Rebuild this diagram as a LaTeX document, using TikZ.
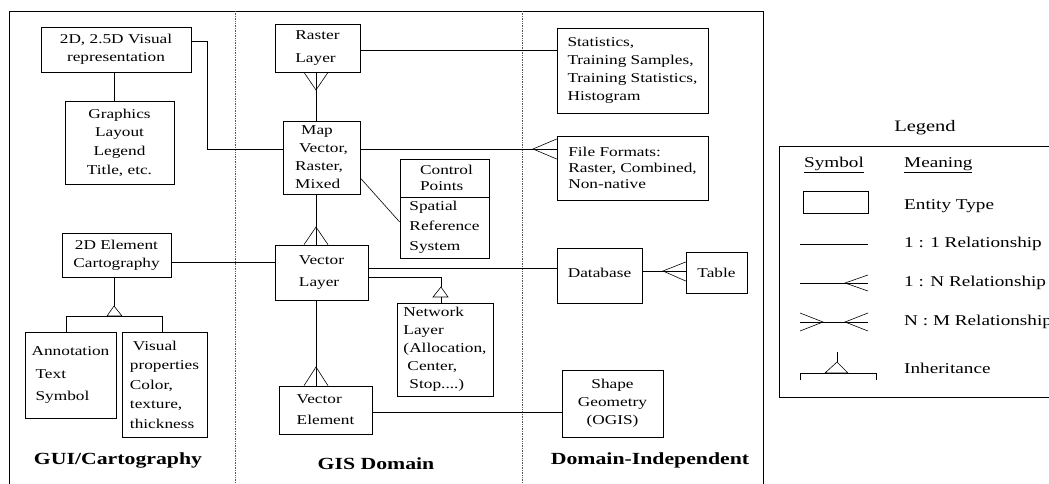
\documentclass[tikz,border=0pt]{standalone}
\usepackage{fontspec}
\setmainfont{Liberation Serif}[FakeStretch=1.28]
\newcommand\erfont{\fontsize{13.5}{18}\selectfont}
\tikzset{
  entite/.style={draw, line width=0.7pt, inner sep=0pt, align=left, font=\erfont},
  lien/.style={line width=0.6pt},
  colonne/.style={densely dotted, line width=0.7pt, gray!70!black},
  titre/.style={font=\fontsize{17}{20}\selectfont\bfseries},
  lgdtexte/.style={font=\fontsize{15}{18}\selectfont, anchor=west, inner sep=0pt},
}
\begin{document}
\begin{tikzpicture}[x=1pt,y=-1pt]
\useasboundingbox (0,0) rectangle (1049,484);

% Cadre et colonnes
\draw[line width=0.8pt] (9,484) -- (9,11) -- (763,11) -- (763,484);
\draw[colonne] (235,11) -- (235,484);
\draw[colonne] (522,11) -- (522,484);

% Entités GUI/Cartography
\node[entite, align=center, minimum width=150pt, minimum height=45pt] (vis) at (116,49.5) {2D, 2.5D Visual\\representation};
\node[entite, align=center, font=\fontsize{13.5}{18.7}\selectfont, minimum width=109pt, minimum height=83pt] (gfx) at (119.5,142.5) {Graphics\\Layout\\Legend\\Title, etc.};
\node[entite, align=center, minimum width=109pt, minimum height=44pt] (elem) at (116.5,255) {2D Element\\Cartography};
\node[entite, font=\fontsize{13.5}{22.5}\selectfont, minimum width=91pt, minimum height=86pt] (annot) at (70.5,375) {Annotation\\\hspace{4pt}Text\\\hspace{4pt}Symbol};
\node[entite, font=\fontsize{13.5}{19.5}\selectfont, minimum width=85pt, minimum height=105pt] (visprop) at (164.5,384.5) {\hspace{3pt}Visual\\properties\\Color,\\texture,\\thickness};

% Entités GIS Domain
\node[entite, minimum width=85pt, minimum height=48pt] (raster) at (317.5,48) {Raster\\[5pt]Layer};
\node[entite, minimum width=77pt, minimum height=73pt] (map) at (321.5,157.5) {\hspace{6pt}Map\\\hspace{4pt}Vector,\\Raster,\\Mixed};
\node[entite, font=\fontsize{13.5}{16}\selectfont, minimum width=89pt, minimum height=38pt] (cpts) at (444.5,178) {\hspace{4pt}Control\\\hspace{4pt}Points};
\node[entite, font=\fontsize{13.5}{20}\selectfont, minimum width=89pt, minimum height=61pt] (srs) at (444.5,227.5) {Spatial\\Reference\\System};
\node[entite, minimum width=93pt, minimum height=55pt] (vlayer) at (321.5,272.5) {Vector\\[4pt]Layer};
\node[entite, minimum width=96pt, minimum height=93pt] (netw) at (445,349.5) {Network\\Layer\\(Allocation,\\\hspace{4pt}Center,\\\hspace{6pt}Stop....)};
\node[entite, minimum width=93pt, minimum height=48pt] (velem) at (325.5,410) {Vector\\[3pt]Element};

% Entités Domain-Independent
\node[entite, minimum width=151pt, minimum height=85pt] (stats) at (632.5,70.5) {Statistics,\\Training Samples,\\Training Statistics,\\Histogram};
\node[entite, font=\fontsize{13.5}{16}\selectfont, minimum width=151pt, minimum height=64pt] (ffmt) at (632.5,168) {File Formats:\\Raster, Combined,\\Non-native};
\node[entite, minimum width=85pt, minimum height=55pt] (db) at (599.5,275.5) {\raisebox{5pt}{Database}};
\node[entite, minimum width=61pt, minimum height=41pt] (table) at (716.5,272.5) {Table};
\node[entite, align=center, minimum width=101pt, minimum height=67pt] (shape) at (612.5,403.5) {Shape\\Geometry\\(OGIS)};

% Relations 1:1
\draw[lien] (vis.south -| 114,0) -- (gfx.north -| 114,0);
\draw[lien] (vis.east |- 0,41) -- (207,41) -- (207,149) -- (map.west |- 0,149);
\draw[lien] (raster.east |- 0,50) -- (stats.west |- 0,50);
\draw[lien] (map.east |- 0,178) -- (srs.west |- 0,222);
\draw[lien] (elem.east |- 0,262) -- (vlayer.west |- 0,262);
\draw[lien] (vlayer.east |- 0,268) -- (db.west |- 0,268);
\draw[lien] (velem.east |- 0,412) -- (shape.west |- 0,412);

% Relations 1:N
\draw[lien] (map.north -| 316,0) -- (raster.south -| 316,0);
\draw[lien] (raster.south -| 304,0) -- (316,90) -- (raster.south -| 328,0);
\draw[lien] (map.east |- 0,149) -- (ffmt.west |- 0,149);
\draw[lien] (ffmt.west |- 0,139) -- (533,149) -- (ffmt.west |- 0,159);
\draw[lien] (map.south -| 316,0) -- (vlayer.north -| 316,0);
\draw[lien] (vlayer.north -| 304,0) -- (316,227) -- (vlayer.north -| 328,0);
\draw[lien] (vlayer.south -| 316,0) -- (velem.north -| 316,0);
\draw[lien] (velem.north -| 304,0) -- (316,367) -- (velem.north -| 328,0);
\draw[lien] (db.east |- 0,271) -- (table.west |- 0,271);
\draw[lien] (table.west |- 0,262) -- (663,271) -- (table.west |- 0,281);

% Héritage
\draw[lien] (elem.south -| 114,0) -- (114,306);
\draw[lien] (114,306) -- (107,316) -- (122,316) -- cycle;
\draw[lien] (annot.north -| 66,0) -- (66,316) -- (162,316) -- (visprop.north -| 162,0);
\draw[lien] (vlayer.east |- 0,277) -- (441,277) -- (441,287);
\draw[lien] (441,287) -- (433,297) -- (448,297) -- cycle;
\draw[lien] (441,297) -- (netw.north -| 441,0);

% Titres des colonnes
\node[titre] (tgui) at (118,460) {GUI/Cartography};
\node[titre] (tgis) at (376,464) {GIS Domain};
\node[titre] (tind) at (650,460) {Domain-Independent};

% Légende
\node[font=\fontsize{16}{18}\selectfont] (lgd) at (925,128) {Legend};
\draw[line width=0.8pt] (1060,146) -- (779,146) -- (779,397) -- (1060,397);
\node[lgdtexte, anchor=center] (sym) at (834,165) {\underline{Symbol}};
\node[lgdtexte] (sens) at (904,165) {\underline{Meaning}};
\node[entite, minimum width=65pt, minimum height=22pt] (lgdent) at (835.5,202) {};
\node[lgdtexte] (tent) at (904,206) {Entity Type};
\draw[lien] (800,244) -- (868,244);
\node[lgdtexte] (tun) at (904,244) {1 : 1 Relationship};
\draw[lien] (800,283) -- (868,283);
\draw[lien] (868,275) -- (845,283) -- (868,291);
\node[lgdtexte] (tn) at (904,283) {1 : N Relationship};
\draw[lien] (800,322) -- (868,322);
\draw[lien] (800,313) -- (823,322) -- (800,331);
\draw[lien] (868,313) -- (845,322) -- (868,331);
\node[lgdtexte] (tnm) at (904,322) {N : M Relationship};
\draw[lien] (837,352) -- (837,362);
\draw[lien] (837,362) -- (825,373) -- (848,373) -- cycle;
\draw[lien] (800,380) -- (800,373) -- (876,373) -- (876,380);
\node[lgdtexte] (therit) at (904,368) {Inheritance};

\end{tikzpicture}
\end{document}
